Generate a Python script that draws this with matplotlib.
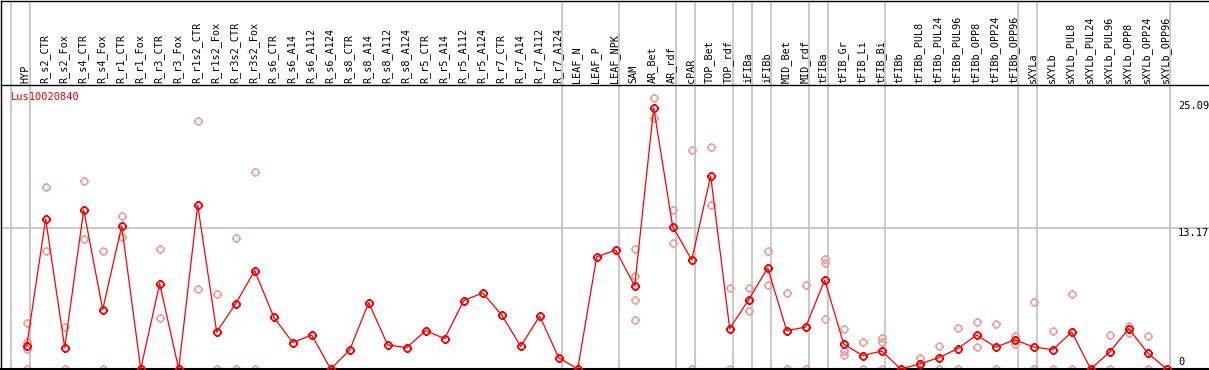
import numpy as np
import matplotlib
matplotlib.use("Agg")
import matplotlib.pyplot as plt
from matplotlib.path import Path

# samples (column order)
samples = ["HYP", "R_s2_CTR", "R_s2_Fox", "R_s4_CTR", "R_s4_Fox", "R_r1_CTR", "R_r1_Fox",
           "R_r3_CTR", "R_r3_Fox", "R_r1s2_CTR", "R_r1s2_Fox", "R_r3s2_CTR", "R_r3s2_Fox",
           "R_s6_CTR", "R_s6_A14", "R_s6_A112", "R_s6_A124", "R_s8_CTR", "R_s8_A14",
           "R_s8_A112", "R_s8_A124", "R_r5_CTR", "R_r5_A14", "R_r5_A112", "R_r5_A124",
           "R_r7_CTR", "R_r7_A14", "R_r7_A112", "R_r7_A124", "LEAF_N", "LEAF_P", "LEAF_NPK",
           "SAM", "AR_Bet", "AR_rdf", "cPAR", "TOP_Bet", "TOP_rdf", "iFIBa", "iFIBb",
           "MID_Bet", "MID_rdf", "tFIBa", "tFIB_Gr", "tFIB_Li", "tFIB_Bi", "tFIBb",
           "tFIBb_PUL8", "tFIBb_PUL24", "tFIBb_PUL96", "tFIBb_OPP8", "tFIBb_OPP24",
           "tFIBb_OPP96", "sXYLa", "sXYLb", "sXYLb_PUL8", "sXYLb_PUL24", "sXYLb_PUL96",
           "sXYLb_OPP8", "sXYLb_OPP24", "sXYLb_OPP96"]

# mean expression per sample
means = [2.15, 14.04, 2.0, 14.89, 5.56, 13.39, 0.0, 7.99, 0.0, 15.36, 3.46, 6.12, 9.21,
         4.87, 2.47, 3.18, 0.0, 1.78, 6.21, 2.25, 2.0, 3.59, 2.84, 6.40, 7.12, 5.06, 2.12,
         4.96, 1.06, 0.0, 10.49, 11.14, 7.77, 24.44, 13.33, 10.21, 18.07, 3.78, 6.49, 9.46,
         3.59, 3.93, 8.33, 2.34, 1.25, 1.69, 0.0, 0.47, 1.06, 1.90, 3.18, 2.06, 2.72, 2.06,
         1.81, 3.46, 0.0, 1.59, 3.78, 1.50, 0.0]

# individual replicates (empty list = only the mean is shown)
replicates = [
    [4.28, 2.5, 1.84, 0.0], [17.04, 11.05], [3.93, 0.0], [17.6, 12.2], [11.05, 0.0],
    [14.33, 12.39], [0.0, 0.0], [11.24, 4.78], [0.0, 0.0], [23.22, 7.49], [7.05, 0.0],
    [12.27, 0.0], [18.45, 0.0],
    [], [], [], [], [], [], [], [], [], [], [], [], [], [], [], [], [], [], [],
    [11.24, 8.71, 6.46, 4.59], [25.37, 23.5], [14.89, 11.8], [20.5, 0.0], [20.79, 15.36],
    [7.58, 0.0], [7.58, 5.43], [11.05, 7.87], [7.12, 0.0], [7.87, 0.0],
    [10.27, 9.89, 4.68], [3.75, 1.69, 1.31], [2.53, 0.0], [2.9, 2.53, 0.0], [0.0, 0.0],
    [1.0, 0.0], [2.15, 0.0], [3.84, 0.0], [4.4, 2.06], [4.21, 0.0], [3.06, 2.37],
    [6.27, 0.0, 0.0], [3.56, 0.0], [7.02, 0.0], [0.0, 0.0], [3.18, 0.0], [4.03, 3.4],
    [3.09, 0.0], [0.0, 0.0]]

# group separators: after these column numbers (0 = before the first column)
separators = [0, 1, 29, 32, 35, 36, 38, 39, 40, 42, 43, 46, 53, 54, 61]
gene = "Lus10020840"
ymax_label = 25.09
ymid_label = 13.17

W, H = 1209, 370
fig = plt.figure(figsize=(W / 100, H / 100), dpi=100)

x = np.arange(1, len(samples) + 1)
xlim = ((1 - 26.7) / 19 + 1, (W - 26.7) / 19 + 1)
top_px, bot_px = 85, 369
ylim_top = ymid_label * (bot_px - top_px) / 140.7

ax = fig.add_axes([1 / W, (H - bot_px) / H, 1 - 1 / W, (bot_px - top_px) / H])
hax = fig.add_axes([1 / W, (H - top_px) / H, 1 - 1 / W, (top_px - 0.5) / H], sharex=ax)

for a in (ax, hax):
    a.set_xlim(*xlim)
    a.set_xticks([])
    a.set_yticks([])
    a.spines["right"].set_visible(False)
    for s in ("left", "top", "bottom"):
        a.spines[s].set_linewidth(1.0)
        a.spines[s].set_color("black")
    for s in separators:
        a.axvline(s + 0.19, color="#c0c0c0", lw=1.2, zorder=0)
ax.set_ylim(0, ylim_top)
hax.set_ylim(0, 1)
ax.spines["top"].set_visible(False)
ax.spines["bottom"].set_linewidth(1.5)

ax.axhline(ymid_label, color="#c0c0c0", lw=1.2, zorder=0)

# circle marker with small ticks
t = np.linspace(0, 2 * np.pi, 33)
verts = [(np.cos(a), np.sin(a)) for a in t]
codes = [Path.MOVETO] + [Path.LINETO] * (len(t) - 1)
for dx, dy in [(0, 1), (0, -1), (1, 0), (-1, 0)]:
    verts += [(dx, dy), (1.35 * dx, 1.35 * dy)]
    codes += [Path.MOVETO, Path.LINETO]
ring = Path(verts, codes)

rx, ry = [], []
for xi, reps in zip(x, replicates):
    rx += [xi] * len(reps)
    ry += reps
ax.plot(rx, ry, ls="none", marker=ring, ms=6.5, mec="#f09a9a", mfc="none",
        mew=1.1, clip_on=False, zorder=2)
ax.plot(x, means, color="red", lw=0.9, marker=ring, ms=6.5, mec="red", mfc="none",
        mew=1.3, clip_on=False, zorder=3)

mono = "DejaVu Sans Mono"
for xi, name in zip(x, samples):
    hax.text(xi - 0.05, 2 / 85, name, rotation=90, ha="center", va="bottom",
             fontsize=7.3, family=mono, color="black")

ax.text(xlim[0] + 0.5, ylim_top - 1.1, gene, color="red", fontsize=7.5, family=mono,
        ha="left", va="center")
lab_x = (1178 - 26.7) / 19 + 1
for v, off, lab in [(ymax_label, -0.45, "25.09"), (ymid_label, -0.45, "13.17"), (0, 0.65, "0")]:
    ax.text(lab_x, v + off, lab, fontsize=7.5, family=mono, ha="left", va="center",
            color="black")

fig.savefig("out.png", dpi=100)
